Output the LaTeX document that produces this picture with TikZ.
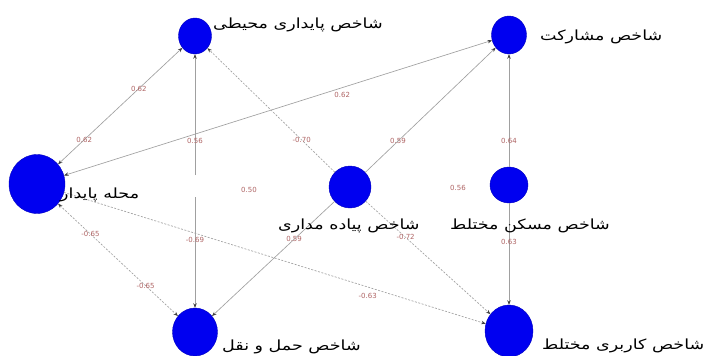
\documentclass[tikz,border=0pt]{standalone}
\usepackage{fontspec}
\setmainfont{DejaVu Sans}
\newfontfamily\fa[Script=Arabic,FakeStretch=1.25]{DejaVu Sans}
\TeXXeTstate=1
\usetikzlibrary{arrows.meta,shapes.geometric}
\definecolor{nodeblue}{RGB}{0,0,240}
\definecolor{edgegray}{RGB}{160,160,160}
\definecolor{lblred}{RGB}{175,100,100}
\tikzset{
  vtx/.style={ellipse, fill=nodeblue, draw=nodeblue!80!black, line width=0.4pt, inner sep=0pt},
  tipa/.tip={Stealth[length=4.5pt,width=3.5pt,color=black!75]},
  conn/.style={draw=edgegray, line width=0.65pt, -tipa},
  both/.style={draw=edgegray, line width=0.65pt, tipa-tipa},
  neg/.style={dash pattern=on 2pt off 1.5pt},
  lbl/.style={font=\fontsize{7}{8}\selectfont, text=lblred, inner sep=0.5pt},
  vlabel/.style={font=\fa\fontsize{14}{16}\selectfont, anchor=west, inner sep=0pt, text=black}
}
\begin{document}
\begin{tikzpicture}[x=1pt,y=-1pt]
\path[use as bounding box, fill=white] (0,0) rectangle (705,356);
% vertices
\node[vtx, minimum width=33pt, minimum height=36pt] (E) at (195,36) {};
\node[vtx, minimum width=35pt, minimum height=38pt] (P) at (509,35) {};
\node[vtx, minimum width=56pt, minimum height=59pt] (N) at (37,184) {};
\node[vtx, minimum width=42pt, minimum height=42pt] (W) at (350,187) {};
\node[vtx, minimum width=38pt, minimum height=36pt] (H) at (509,185) {};
\node[vtx, minimum width=45pt, minimum height=48pt] (T) at (195,332) {};
\node[vtx, minimum width=48pt, minimum height=52pt] (M) at (509,331) {};
% connectors
\coordinate (g1) at (195,175);
\coordinate (g2) at (195,197);
\draw[both] (N) -- node[lbl,pos=0.21] (l1) {0.62} node[lbl,pos=0.65] (l2) {0.62} (E);
\draw[both] (N) -- node[lbl,pos=0.65,yshift=-7pt] (l3) {0.62} (P);
\draw[conn] (g1) -- node[lbl,pos=0.28] (l4) {0.56} (E);
\draw[conn] (g2) -- node[lbl,pos=0.39] (l5) {-0.69} (T);
\draw[conn,neg] (W) -- node[lbl,pos=0.26] (l6) {-0.70} (E);
\draw[conn] (W) -- node[lbl,pos=0.25] (l7) {0.59} (P);
\draw[conn] (H) -- node[lbl,pos=0.23] (l8) {0.64} (P);
\draw[conn] (H) -- node[lbl,pos=0.38] (l9) {0.63} (M);
\draw[conn] (W) -- node[lbl,pos=0.33] (l10) {0.59} (T);
\draw[conn,neg] (W) -- node[lbl,pos=0.32] (l11) {-0.72} (M);
\draw[both,neg] (N) -- node[lbl,pos=0.27] (l12) {-0.65} node[lbl,pos=0.73] (l13) {-0.65} (T);
\draw[conn,neg] (N) -- node[lbl,pos=0.72,yshift=-9pt] (l14) {-0.63} (M);
\node[lbl] (l15) at (249,190) {0.50};
\node[lbl] (l16) at (458,188) {0.56};
% vertex labels
\node[vlabel] (tE) at (213,25) {\beginR شاخص پایداری محیطی\endR};
\node[vlabel] (tP) at (540,37) {\beginR شاخص مشارکت\endR};
\node[vlabel] (tN) at (60,195) {\beginR محله پایدار\endR};
\node[vlabel] (tW) at (278,226) {\beginR شاخص پیاده مداری\endR};
\node[vlabel] (tH) at (450,226) {\beginR شاخص مسکن مختلط\endR};
\node[vlabel] (tT) at (222,347) {\beginR شاخص حمل و نقل\endR};
\node[vlabel] (tM) at (542,346) {\beginR شاخص کاربری مختلط\endR};
\end{tikzpicture}
\end{document}
